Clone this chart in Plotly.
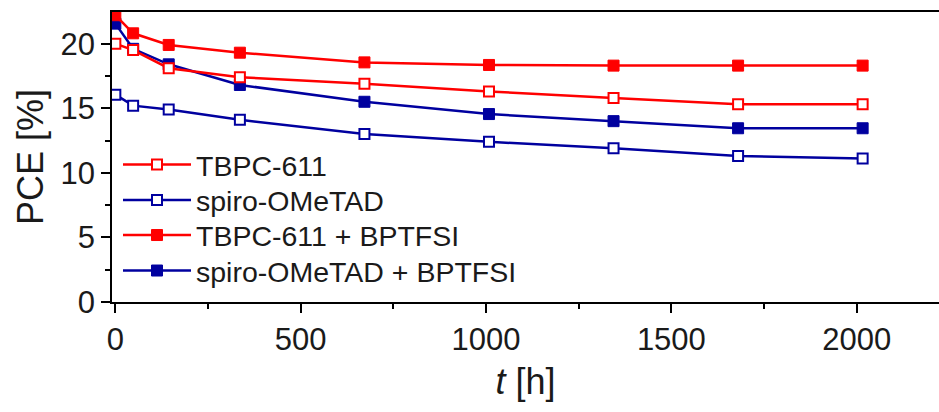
import plotly.graph_objects as go

t_hours = [0, 48, 144, 336, 672, 1008, 1344, 1680, 2016]
tbpc = [20.0, 19.5, 18.1, 17.4, 16.9, 16.3, 15.8, 15.3, 15.3]
spiro = [16.05, 15.2, 14.9, 14.1, 13.0, 12.4, 11.9, 11.3, 11.1]
tbpc_bptfsi = [22.2, 20.8, 19.9, 19.3, 18.55, 18.35, 18.3, 18.3, 18.3]
spiro_bptfsi = [21.55, 19.6, 18.4, 16.8, 15.5, 14.55, 14.0, 13.45, 13.45]

names = ["TBPC-611", "spiro-OMeTAD", "TBPC-611 + BPTFSI", "spiro-OMeTAD + BPTFSI"]
RED = "#FF0000"
BLUE = "#00009F"
FONT = "Arial, Liberation Sans, sans-serif"
TXT = "#1a1a1a"

# plot area geometry (px) used to place the legend rows
PLOT_TOP, PLOT_H = 12, 290
LEFT, PLOT_W = 112, 827
row_px = [165, 200.5, 235.5, 271]

fig = go.Figure()

def add(y, name, color, filled, legend_id):
    if filled:
        marker = dict(symbol="square", size=11, color=color, line=dict(color=color, width=1))
    else:
        marker = dict(symbol="square", size=10, color="white", line=dict(color=color, width=2))
    fig.add_trace(go.Scatter(x=t_hours, y=y, name=name, mode="lines+markers",
                             line=dict(color=color, width=2.5), marker=marker,
                             legend=legend_id))

# drawing order: later traces on top
add(spiro_bptfsi, names[3], BLUE, True, "legend4")
add(tbpc_bptfsi, names[2], RED, True, "legend3")
add(spiro, names[1], BLUE, False, "legend2")
add(tbpc, names[0], RED, False, "legend")

axis_common = dict(showline=True, linecolor="black", linewidth=1.5, ticks="outside",
                   tickcolor="black", tickwidth=1.5, ticklen=9, showgrid=False, zeroline=False,
                   tickfont=dict(family=FONT, size=31, color=TXT))

legend_x = (124 - 6 - LEFT) / PLOT_W
legends = {}
for i, key in enumerate(["legend", "legend2", "legend3", "legend4"]):
    legends[key] = dict(x=legend_x, y=(PLOT_TOP + PLOT_H - row_px[i]) / PLOT_H,
                        xanchor="left", yanchor="middle", bgcolor="rgba(0,0,0,0)",
                        font=dict(family=FONT, size=28.5, color=TXT), itemwidth=68)

fig.update_layout(
    width=939, height=412,
    margin=dict(l=LEFT, r=0, t=PLOT_TOP, b=412 - PLOT_TOP - PLOT_H),
    plot_bgcolor="white", paper_bgcolor="white",
    font=dict(family=FONT, color=TXT),
    showlegend=True,
    xaxis=dict(range=[-9, 2222], tickvals=[0, 500, 1000, 1500, 2000], mirror=True,
               minor=dict(tickvals=[250, 750, 1250, 1750], ticklen=5, tickwidth=1.5,
                          tickcolor="black", ticks="outside"),
               title=dict(text="<i>t</i> [h]", font=dict(family=FONT, size=36, color=TXT),
                          standoff=13),
               **axis_common),
    yaxis=dict(range=[0, 22.45], tickvals=[0, 5, 10, 15, 20],
               minor=dict(tickvals=[2.5, 7.5, 12.5, 17.5], ticklen=5, tickwidth=1.5,
                          tickcolor="black", ticks="outside"),
               title=dict(text="PCE [%]", font=dict(family=FONT, size=36, color=TXT),
                          standoff=6),
               **axis_common),
    **legends,
)

fig.write_html("out.html")
